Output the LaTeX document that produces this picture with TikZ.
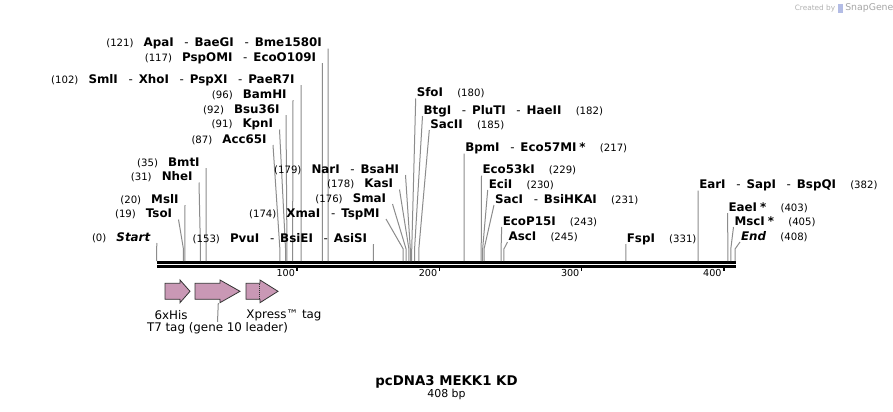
\documentclass[tikz,border=0pt]{standalone}
\usepackage{fontspec}
\setmainfont{DejaVu Sans}
\usetikzlibrary{calc}

\definecolor{tagpink}{RGB}{201,152,181}
\definecolor{leadgray}{RGB}{140,140,140}

% spacing inside the enzyme labels
\newcommand\num[1]{{\mdseries\fontsize{7.6}{10}\selectfont(#1)}}
\newcommand\gapN{\hspace{0.85em}}
\newcommand\gapR{\hspace{1.2em}}
\newcommand\dsh{\hspace{0.9em}{\mdseries -}\hspace{0.5em}}

\tikzset{
  lbl/.style={inner ysep=0.2pt, text height=6pt, text depth=1pt,
    font=\fontsize{8.9}{10}\selectfont\bfseries},
  lblL/.style={lbl, anchor=south east, inner xsep=4.6pt},
  lblR/.style={lbl, anchor=south west, inner xsep=0.6pt},
  leader/.style={draw=leadgray, line width=0.75pt},
  tagbox/.style={fill=tagpink, draw=black!80, line width=0.6pt, line join=miter},
  taglbl/.style={inner sep=0pt, font=\fontsize{8.9}{10}\selectfont},
  ticklbl/.style={inner sep=0pt, anchor=east, font=\fontsize{7.2}{8}\selectfont}
}

\begin{document}
\begin{tikzpicture}[x=0.75pt, y=-0.75pt]
  \fill[white] (0,0) rectangle (893,411);
  \useasboundingbox (0,0) rectangle (893,411);

  % cut sites: name, bp, attach x, attach y, text
  \newcommand\siteLeft[5]{%
    \node[lblL] (#1) at (#3,#4) {#5};
    \coordinate (#1e) at ({156.5+1.418*#2},249);
    \coordinate (#1b) at ({156.5+1.418*#2},261);
    \draw[leader] (#1.south east) -- (#1e) -- (#1b);
  }
  \newcommand\siteRight[5]{%
    \node[lblR] (#1) at (#3,#4) {#5};
    \coordinate (#1e) at ({156.5+1.418*#2},249);
    \coordinate (#1b) at ({156.5+1.418*#2},261);
    \draw[leader] (#1.south west) -- (#1e) -- (#1b);
  }

  % sequence line
  \draw[line width=2pt] (157,262.3) -- (736,262.3);
  \draw[line width=2pt] (157,266.7) -- (736,266.7);
  \foreach \k in {100,200,300,400}
  {
    \draw[line width=1.2pt] ({155+1.422*\k},266) -- ({155+1.422*\k},271);
    \node[ticklbl] (t\k) at ({153+1.422*\k},273.5) {\k};
  }

  \siteLeft{s0}{0}{157}{243}{\num{0}\gapN\textit{Start}}
  \siteLeft{s19}{19}{178.5}{219.5}{\num{19}\gapN TsoI}
  \siteLeft{s20}{20}{185}{205}{\num{20}\gapN MslI}
  \siteLeft{s31}{31}{199}{182.5}{\num{31}\gapN NheI}
  \siteLeft{s35}{35}{206}{168}{\num{35}\gapN BmtI}
  \siteLeft{s87}{87}{273}{145}{\num{87}\gapN Acc65I}
  \siteLeft{s91}{91}{279.5}{129.5}{\num{91}\gapN KpnI}
  \siteLeft{s92}{92}{286}{115}{\num{92}\gapN Bsu36I}
  \siteLeft{s96}{96}{293}{100}{\num{96}\gapN BamHI}
  \siteLeft{s102}{102}{301}{85}{\num{102}\gapN SmlI\dsh XhoI\dsh PspXI\dsh PaeR7I}
  \siteLeft{s117}{117}{322.4}{63}{\num{117}\gapN PspOMI\dsh EcoO109I}
  \siteLeft{s121}{121}{328.1}{48.5}{\num{121}\gapN ApaI\dsh BaeGI\dsh Bme1580I}
  \siteLeft{s153}{153}{373.5}{244}{\num{153}\gapN PvuI\dsh BsiEI\dsh AsiSI}
  \siteLeft{s174}{174}{386}{219}{\num{174}\gapN XmaI\dsh TspMI}
  \siteLeft{s176}{176}{392.5}{204}{\num{176}\gapN SmaI}
  \siteLeft{s178}{178}{399.5}{189.5}{\num{178}\gapN KasI}
  \siteLeft{s179}{179}{405.5}{175}{\num{179}\gapN NarI\dsh BsaHI}

  \siteRight{s180}{180}{415.7}{98.5}{SfoI\gapR\num{180}}
  \siteRight{s182}{182}{422.5}{116}{BtgI\dsh PluTI\dsh HaeII\gapR\num{182}}
  \siteRight{s185}{185}{429.3}{130}{SacII\gapR\num{185}}
  \siteRight{s217}{217}{464.2}{153.5}{BpmI\dsh Eco57MI\hspace{0.25em}*\gapR\num{217}}
  \siteRight{s229}{229}{481.5}{175.5}{Eco53kI\gapR\num{229}}
  \siteRight{s230}{230}{487.7}{190}{EciI\gapR\num{230}}
  \siteRight{s231}{231}{494}{205}{SacI\dsh BsiHKAI\gapR\num{231}}
  \siteRight{s243}{243}{501.7}{227}{EcoP15I\gapR\num{243}}
  \siteRight{s245}{245}{507.5}{242}{AscI\gapR\num{245}}
  \siteRight{s331}{331}{625.8}{244}{FspI\gapR\num{331}}
  \siteRight{s382}{382}{698.2}{190.5}{EarI\dsh SapI\dsh BspQI\gapR\num{382}}
  \siteRight{s403}{403}{727.5}{213}{EaeI\hspace{0.25em}*\gapR\num{403}}
  \siteRight{s405}{405}{733.5}{227}{MscI\hspace{0.25em}*\gapR\num{405}}
  \siteRight{s408}{408}{740}{242}{\textit{End}\gapR\num{408}}

  % features
  \newcommand\tagArrow[3]{\filldraw[tagbox] (#1,283.3) -- ({#2-#3},283.3) -- ({#2-#3},280) -- (#2,291.3) -- ({#2-#3},302.7) -- ({#2-#3},299.3) -- (#1,299.3) -- cycle}
  \tagArrow{165}{190}{10};
  \tagArrow{195}{240}{20};
  \tagArrow{246}{278}{18};
  \draw[black!80, densely dotted, line width=0.5pt] (259.3,283.6) -- (259.3,299);

  \node[taglbl] (his) at (171,315) {6xHis};
  \node[taglbl] (xpress) at (284,315) {Xpress™ tag};
  \node[taglbl] (t7) at (217.5,328) {T7 tag (gene 10 leader)};
  \coordinate (t7tag) at (218.3,303);
  \draw[leader] (t7tag) -- (t7.north);

  % title
  \node[font=\fontsize{10}{12}\selectfont\bfseries] (title) at (446.5,381.5) {pcDNA3 MEKK1 KD};
  \node[font=\fontsize{8.2}{10}\selectfont, inner sep=0pt] (size) at (446.5,394.5) {408 bp};

  % watermark
  \node[font=\fontsize{5.5}{6}\selectfont, text=black!30, inner sep=0pt] (credit) at (815,8) {Created by};
  \fill[cyan!35!blue!30] (838,4) rectangle (842.5,13);
  \node[font=\fontsize{7}{8}\selectfont, text=black!35, anchor=west, inner sep=0pt] (brand) at (845,8) {SnapGene};
\end{tikzpicture}
\end{document}
